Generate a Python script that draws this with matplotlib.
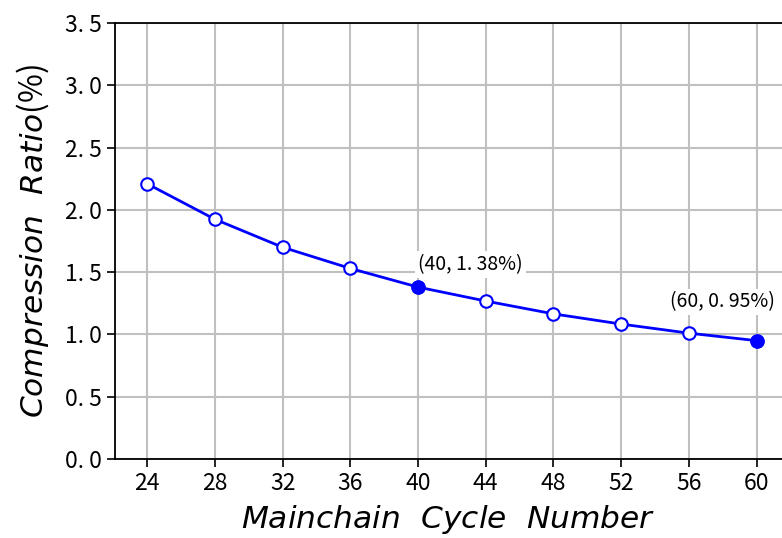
import matplotlib
matplotlib.use("Agg")
import matplotlib.pyplot as plt

plt.rcParams["font.family"] = ["Noto Sans CJK SC", "DejaVu Sans"]
plt.rcParams["mathtext.fontset"] = "dejavusans"
plt.rcParams["axes.unicode_minus"] = False

# data
cycles = [24, 28, 32, 36, 40, 44, 48, 52, 56, 60]
ratios = [2.21, 1.925, 1.70, 1.53, 1.38, 1.268, 1.165, 1.083, 1.01, 0.95]
highlight = [40, 60]
y_ticks = [0.0, 0.5, 1.0, 1.5, 2.0, 2.5, 3.0, 3.5]
y_tick_labels = ["0. 0", "0. 5", "1. 0", "1. 5", "2. 0", "2. 5", "3. 0", "3. 5"]

fig = plt.figure(figsize=(7.82, 5.38), dpi=100)
ax = fig.add_axes([0.147, 0.147, 0.853, 0.81])

ax.plot(cycles, ratios, color="blue", linewidth=2, marker="o", markersize=9,
        markerfacecolor="white", markeredgecolor="blue", markeredgewidth=1.5,
        zorder=3)

for c in highlight:
    r = ratios[cycles.index(c)]
    ax.plot(c, r, marker="o", markersize=9, color="blue", zorder=4)

ax.annotate("(40, 1. 38%)", xy=(40, 1.38), xytext=(40 + 3.1, 1.56),
            ha="center", va="center", fontsize=14,
            bbox=dict(facecolor="white", edgecolor="none", pad=2), zorder=5)
ax.annotate("(60, 0. 95%)", xy=(60, 0.95), xytext=(58, 1.26),
            ha="center", va="center", fontsize=14,
            bbox=dict(facecolor="white", edgecolor="none", pad=2), zorder=5)

ax.set_xlim(22.1, 61.5)
ax.set_ylim(0, 3.5)
ax.set_xticks(cycles)
ax.set_yticks(y_ticks)
ax.set_yticklabels(y_tick_labels)
ax.tick_params(labelsize=16.5, width=1.2, length=6)

ax.grid(True, color="#c0c0c0", linewidth=1.5)
ax.set_axisbelow(True)
ax.spines["right"].set_visible(False)
for s in ["top", "left", "bottom"]:
    ax.spines[s].set_linewidth(1.3)

ax.set_xlabel(r"$Mainchain\ \ Cycle\ \ Number$", fontsize=22.5, labelpad=6)
ax.set_ylabel(r"$Compression\ \ Ratio$(%)", fontsize=22.5, labelpad=10)

fig.savefig("out.png", dpi=100)
